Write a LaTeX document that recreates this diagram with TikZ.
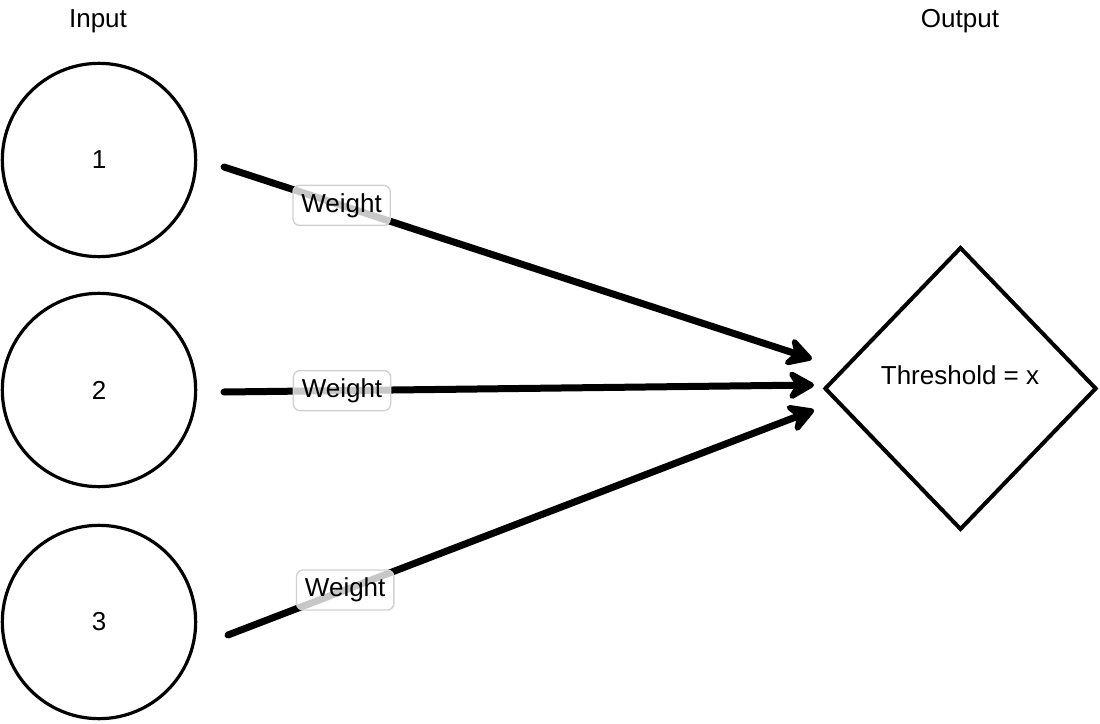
\documentclass[tikz,border=0pt]{standalone}
\usepackage{fontspec}
\setmainfont{Liberation Sans}
\usetikzlibrary{shapes.geometric,arrows.meta}
\begin{document}
\begin{tikzpicture}[x=0.75pt,y=-0.75pt,
  every node/.style={font=\fontsize{19.5}{23}\selectfont},
  neuron/.style={circle,draw,line width=2.4pt,minimum size=145pt,inner sep=0pt},
  outnode/.style={diamond,draw,line width=3pt,minimum width=204pt,minimum height=212pt,inner sep=0pt},
  conn/.style={line width=5.25pt,line cap=round,-{Stealth[length=24pt,width=27pt,inset=8pt,round]}},
  wlabel/.style={draw=black!18,line width=1pt,fill=white,fill opacity=0.78,text opacity=1,rounded corners=5pt,minimum height=30pt,minimum width=73pt,inner sep=2pt,text height=14pt,text depth=4pt}]
\useasboundingbox (0,0) rectangle (1100,724);
\node (in) at (98,21) {Input};
\node (out) at (960,21) {Output};
\node[neuron] (c1) at (99,160) {1};
\node[neuron] (c2) at (99,390) {2};
\node[neuron] (c3) at (99,622) {3};
\node[outnode] (th) at (960.5,388.5) {};
\node (thtext) at (960,375) {Threshold = x};
\coordinate (s1) at (224,167);
\coordinate (s2) at (224,392);
\coordinate (s3) at (228,635);
\coordinate (t1) at (812,359);
\coordinate (t2) at (814,385);
\coordinate (t3) at (814,410);
\draw[conn] (s1) -- node[wlabel,pos=0.2] (w1) {Weight} (t1);
\draw[conn] (s2) -- node[wlabel,pos=0.2] (w2) {Weight} (t2);
\draw[conn] (s3) -- node[wlabel,pos=0.2] (w3) {Weight} (t3);
\end{tikzpicture}
\end{document}
